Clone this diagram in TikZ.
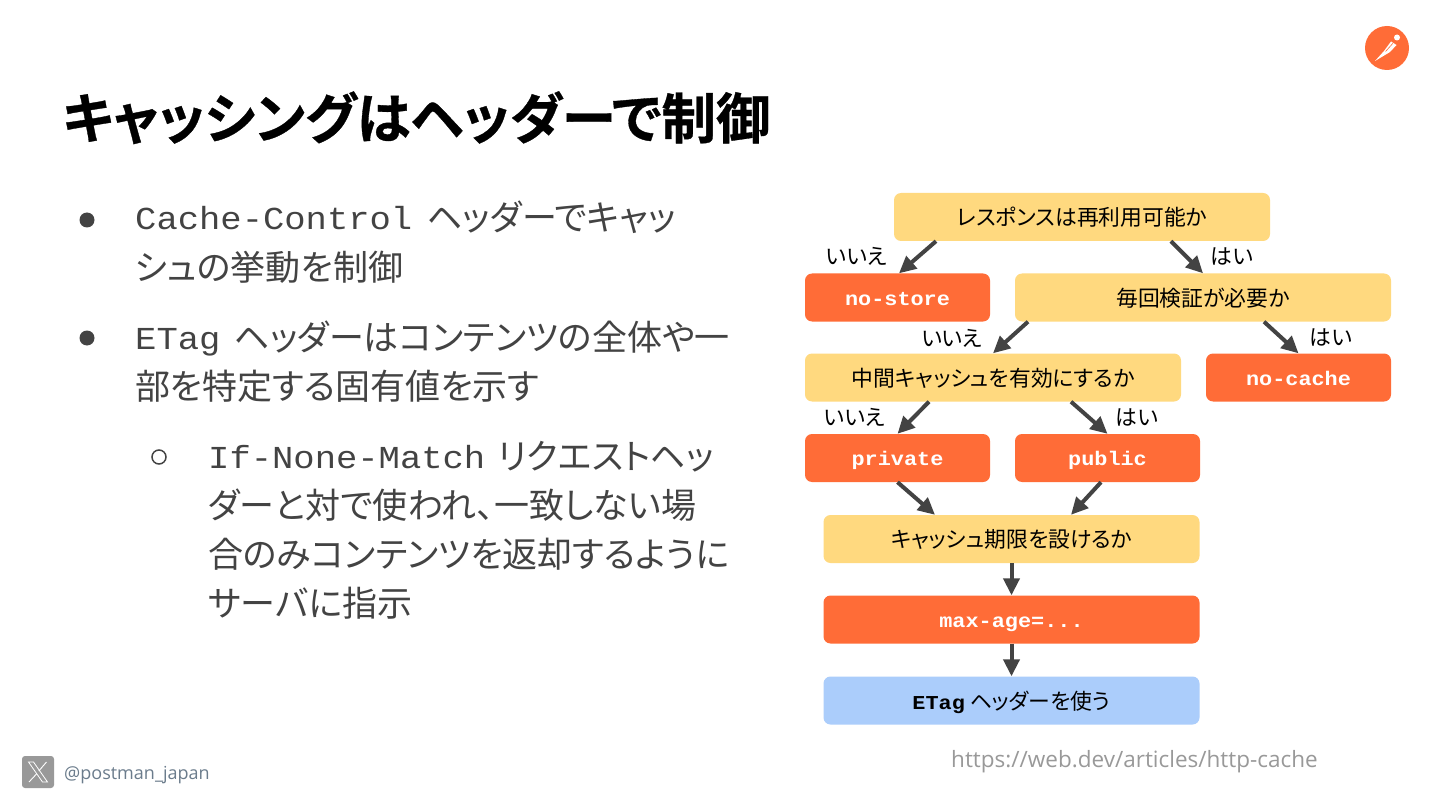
\documentclass[tikz,border=0pt]{standalone}
\usepackage{fontspec}
\usetikzlibrary{arrows.meta}
\setmainfont{Noto Sans}
\newfontfamily\jp[RawFeature=+palt]{Noto Sans CJK JP}
\newfontfamily\jpb[RawFeature=+palt,FakeBold=0.6]{Noto Sans CJK JP Bold}
\newfontfamily\mono[FakeStretch=1.11]{Liberation Mono}
\newfontfamily\monob[FakeStretch=1.11]{Liberation Mono Bold}
\newfontfamily\latin{Open Sans}
\definecolor{ink}{HTML}{434343}
\definecolor{yel}{HTML}{FFD97F}
\definecolor{org}{HTML}{FF6C37}
\definecolor{blu}{HTML}{ABCDFB}
\newcommand{\fs}[1]{\fontsize{#1}{#1}\selectfont}
\tikzset{
 x=1pt,y=-1pt,
 flow/.style={rounded corners=7pt,inner sep=0pt,minimum height=48pt,font={\jp\fs{21.8}},text=black,text height=17pt,text depth=0pt},
 qbox/.style={flow,fill=yel,minimum width=376pt},
 ans/.style={flow,fill=org,text=white,minimum width=185pt,font={\monob\fs{19.7}},text height=15.5pt},
 wans/.style={ans,minimum width=376pt},
 lab/.style={inner sep=0pt,font={\jp\fs{21.8}},text=black},
 arr/.style={draw=ink,line width=4pt,-{Triangle[length=17pt,width=16pt]},shorten >=0pt},
 body/.style={anchor=base west,inner sep=0pt,text=ink,font={\jp\fs{35}}},
 bull/.style={inner sep=0pt},
}
\newcommand{\cc}[1]{\raisebox{1pt}{\mono\fs{32}#1}}
\begin{document}
\begin{tikzpicture}
\useasboundingbox (0,0) rectangle (1440,810);
\fill[white] (0,0) rectangle (1440,810);
% title
\node[anchor=base west,inner sep=0pt,text=black] (title) at (62,138.5) {\jpb\fs{54.5}キャッシングはヘッダーで制御};
% logo
\node[circle,fill=org,minimum size=44pt,inner sep=0pt] (logo) at (1387,48) {};
\fill[white] (1375,61) -- (1384,51) -- (1391,41.5) -- (1396.5,45) -- (1390,52) -- cycle;
\fill[white] (1397,37.5) circle (3pt);
\draw[org,line width=.6pt] (1385.5,51.5) -- (1393,43.2);
% bullets
\node[bull,fill=ink,circle,minimum size=15pt] (b1) at (87,220) {};
\node[body] (l1) at (135,230.5) {\cc{Cache-Control}\kern15pt{}ヘッダーでキャッ};
\node[body] (l2) at (135,280) {シュの挙動を制御};
\node[bull,fill=ink,circle,minimum size=15pt] (b2) at (87,338) {};
\node[body] (l3) at (135,350.5) {\cc{ETag}\kern14pt{}ヘッダーはコンテンツの全体や一};
\node[body] (l4) at (135,399) {部を特定する固有値を示す};
\node[bull,draw=ink,line width=1.5pt,circle,minimum size=14pt] (b3) at (159,457) {};
\node[body] (l5) at (208,469.5) {\cc{If-None-Match}\kern13pt{}リクエストヘッ};
\node[body] (l6) at (208,518.5) {ダーと対で使われ、一致しない場};
\node[body] (l7) at (208,567.5) {合のみコンテンツを返却するように};
\node[body] (l8) at (208,616.5) {サーバに指示};
% flow
\node[qbox] (a) at (1082,217) {レスポンスは再利用可能か};
\node[ans] (nostore) at (897.5,297.5) {no-store};
\node[qbox] (b) at (1203,297.5) {毎回検証が必要か};
\node[qbox] (c) at (993,377.5) {中間キャッシュを有効にするか};
\node[ans] (nocache) at (1298.5,377.5) {no-cache};
\node[ans] (private) at (897.5,458) {private};
\node[ans] (public) at (1107.5,458) {public};
\node[qbox] (d) at (1011.5,539) {キャッシュ期限を設けるか};
\node[wans] (maxage) at (1011.5,619.5) {max-age=...};
\node[qbox,fill=blu] (etag) at (1011.5,700.5) {{\monob\fs{19.7}ETag} ヘッダーを使う};
\draw[arr] ([xshift=-146pt]a.south) -- ([xshift=1.5pt]nostore.north);
\draw[arr] ([xshift=89pt]a.south) -- (b.north);
\draw[arr] ([xshift=-175pt]b.south) -- (c.north);
\draw[arr] ([xshift=61pt]b.south) -- (nocache.north);
\draw[arr] ([xshift=-64pt]c.south) -- (private.north);
\draw[arr] ([xshift=78pt]c.south) -- (public.north);
\draw[arr] (private.south) -- ([xshift=-76.5pt]d.north);
\draw[arr] ([xshift=-6.5pt]public.south) -- ([xshift=59.5pt]d.north);
\draw[arr] (d.south) -- (maxage.north);
\draw[arr] (maxage.south) -- (etag.north);
\node[lab] (n1) at (856.5,256) {いいえ};
\node[lab] (y1) at (1232,256) {はい};
\node[lab] (n2) at (952,338) {いいえ};
\node[lab] (y2) at (1331,337) {はい};
\node[lab] (n3) at (854.5,417) {いいえ};
\node[lab] (y3) at (1137,417) {はい};
% footer
\node[anchor=base west,inner sep=0pt] (url) at (951,767) {\latin\fs{22.5}\color[HTML]{999999}https://web.dev/articles/http-cache};
\node[fill=black!40,rounded corners=3pt,minimum size=32pt,inner sep=0pt] (x) at (38,772) {};
\draw[white,line width=.8pt,line join=miter] (28.5,762) -- (33.5,762) -- (47.5,782) -- (42.5,782) -- cycle;
\draw[white,line width=.9pt] (46.5,762) -- (38.8,771) (36.5,774) -- (29,782);
\node[anchor=base west,inner sep=0pt] (h) at (64,779) {\latin\fs{18}\color[HTML]{6B7C8C}@postman\_japan};
\end{tikzpicture}
\end{document}
